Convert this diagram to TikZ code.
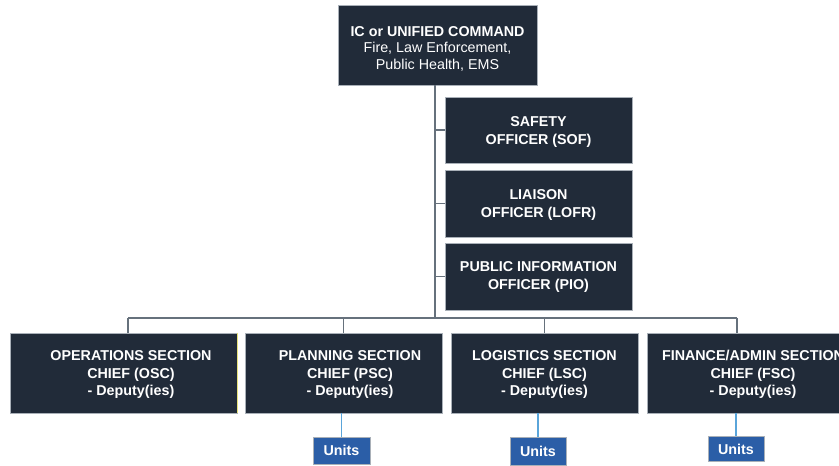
\documentclass[tikz,border=0pt]{standalone}
\usepackage{fontspec}
\setmainfont{Liberation Sans}
\definecolor{navy}{HTML}{212B39}
\definecolor{edgec}{HTML}{A9B0B8}
\definecolor{unitblue}{HTML}{2B5EA7}
\definecolor{linegray}{HTML}{66717C}
\definecolor{lineblue}{HTML}{5AA5DA}
\definecolor{edgeyellow}{HTML}{E8E27A}
\tikzset{
  darkbox/.style={fill=navy, draw=edgec, line width=0.6pt, inner sep=0pt},
  boxtext/.style={text=white, font=\bfseries\fontsize{14.3}{18}\selectfont, align=center, inner sep=0pt},
  unitbox/.style={fill=unitblue, draw=edgec, line width=0.5pt, text=white,
    font=\bfseries\fontsize{14.3}{16}\selectfont, inner sep=0pt},
  conn/.style={draw=linegray, line width=1.3pt},
  bconn/.style={draw=lineblue, line width=1.3pt}
}
\begin{document}
\begin{tikzpicture}[x=1pt,y=-1pt]
\useasboundingbox (0,0) rectangle (839,466);
\fill[white] (0,0) rectangle (839,466);
\clip (0,0) rectangle (839,466);

\node[darkbox, minimum width=199pt, minimum height=80pt] (top) at (437.5,45) {};
\node[boxtext, font=\bfseries\fontsize{14.3}{16.5}\selectfont] (topt) at ([shift={(0,3.5)}]top.center)
  {IC or UNIFIED COMMAND\\{\mdseries Fire, Law Enforcement,}\\{\mdseries Public Health, EMS}};
\node[darkbox, minimum width=187pt, minimum height=66pt] (sof) at (538.5,130) {};
\node[boxtext] (soft) at ([shift={(0,1.5)}]sof.center) {SAFETY\\OFFICER (SOF)};
\node[darkbox, minimum width=187pt, minimum height=67pt] (lofr) at (538.5,203.5) {};
\node[boxtext] (lofrt) at ([shift={(0,1.5)}]lofr.center) {LIAISON\\OFFICER (LOFR)};
\node[darkbox, minimum width=187pt, minimum height=67pt] (pio) at (538.5,276.5) {};
\node[boxtext] (piot) at (pio.center) {PUBLIC INFORMATION\\OFFICER (PIO)};

\node[darkbox, minimum width=227pt, minimum height=80pt] (osc) at (123.5,373) {};
\draw[edgeyellow, line width=0.8pt] (osc.north east) -- (osc.south east);
\node[boxtext, font=\bfseries\fontsize{14.3}{17.5}\selectfont] (osct) at ([shift={(7.5,1.5)}]osc.center) {OPERATIONS SECTION\\CHIEF (OSC)\\- Deputy(ies)};
\node[darkbox, minimum width=197pt, minimum height=80pt] (psc) at (343.5,373) {};
\node[boxtext, font=\bfseries\fontsize{14.3}{17.5}\selectfont] (psct) at ([shift={(6.5,1.5)}]psc.center) {PLANNING SECTION\\CHIEF (PSC)\\- Deputy(ies)};
\node[darkbox, minimum width=187pt, minimum height=80pt] (lsc) at (544.5,373) {};
\node[boxtext, font=\bfseries\fontsize{14.3}{17.5}\selectfont] (lsct) at ([shift={(0,1.5)}]lsc.center) {LOGISTICS SECTION\\CHIEF (LSC)\\- Deputy(ies)};
\node[darkbox, minimum width=210pt, minimum height=80pt] (fsc) at (752,373) {};
\node[boxtext, font=\bfseries\fontsize{14.3}{17.5}\selectfont] (fsct) at ([shift={(1,1.5)}]fsc.center) {FINANCE/ADMIN SECTION\\CHIEF (FSC)\\- Deputy(ies)};

\node[unitbox, minimum width=57pt, minimum height=27pt] (up) at (341.5,450.5) {Units};
\node[unitbox, minimum width=56pt, minimum height=28pt] (ul) at (538,451) {Units};
\node[unitbox, minimum width=56pt, minimum height=25pt] (uf) at (736,449) {Units};

\coordinate (bus) at (435,318);
\coordinate (busL) at (128,318);
\coordinate (busR) at (737,318);

\draw[conn] (top.south -| bus) -- (bus);
\draw[conn] (sof.west -| bus) -- (sof.west);
\draw[conn] (lofr.west -| bus) -- (lofr.west);
\draw[conn] (pio.west -| bus) -- (pio.west);
\draw[conn] (busL) -- (busR);
\draw[conn] (busL) -- (busL |- osc.north);
\draw[conn] (bus -| psc.north) -- (psc.north);
\draw[conn] (bus -| lsc.north) -- (lsc.north);
\draw[conn] (busR) -- (busR |- fsc.north);

\draw[bconn] (psc.south -| up.north) -- (up.north);
\draw[bconn] (lsc.south -| ul.north) -- (ul.north);
\draw[bconn] (fsc.south -| uf.north) -- (uf.north);
\end{tikzpicture}
\end{document}
